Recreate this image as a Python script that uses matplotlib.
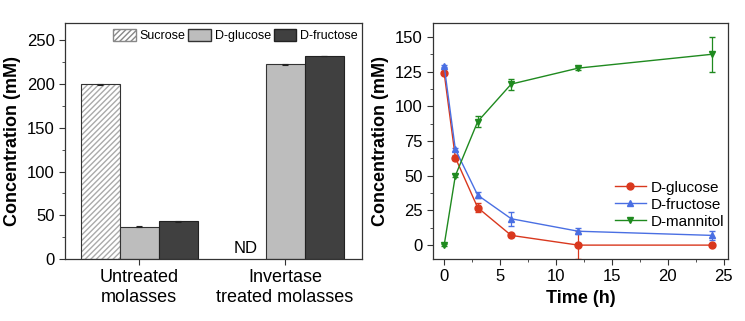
import matplotlib.pyplot as plt
import numpy as np
from matplotlib.ticker import MultipleLocator
from matplotlib.patches import Patch
from matplotlib.lines import Line2D

plt.rcParams['font.family'] = ['Liberation Sans', 'DejaVu Sans']

# left panel: sugar content of molasses
groups = ['Untreated\nmolasses', 'Invertase\ntreated molasses']
sucrose = [200, 0]
sucrose_err = [0.5, 0]
glucose = [37, 223]
glucose_err = [0.5, 0.5]
fructose = [43, 232]
fructose_err = [0.3, 0.3]

# right panel: time course
time_h = [0, 1, 3, 6, 12, 24]
glc = [124, 63, 27, 7, 0, 0]
glc_err = [1, 2, 3, 1, 10, 0.5]
fru = [129, 69, 36, 19, 10, 7]
fru_err = [1, 1, 2, 5, 2, 3]
man = [0, 50, 89, 116, 127.5, 137.5]
man_err = [0.5, 1, 4, 4, 1, 12.5]

fig = plt.figure(figsize=(7.45, 3.21), dpi=100)
ax1 = fig.add_axes([65 / 745, 62 / 321, 297 / 745, 236 / 321])
ax2 = fig.add_axes([433 / 745, 62 / 321, 295 / 745, 236 / 321])

x = np.arange(len(groups))
w = 0.267
ekw = dict(ecolor='#222222', elinewidth=0.8, capsize=2, capthick=0.8)

# sucrose only exists for untreated molasses
ax1.bar(x[:1] - w, sucrose[:1], w, color='white', edgecolor='#aaaaaa',
        hatch='//////', linewidth=0)
ax1.bar(x[:1] - w, sucrose[:1], w, fill=False, edgecolor='#333333', linewidth=0.8,
        yerr=sucrose_err[:1], error_kw=ekw)
ax1.bar(x, glucose, w, color='#bdbdbd', edgecolor='#333333', linewidth=0.8,
        yerr=glucose_err, error_kw=ekw)
ax1.bar(x + w, fructose, w, color='#404040', edgecolor='#222222', linewidth=0.8,
        yerr=fructose_err, error_kw=ekw)
ax1.text(x[1] - w, 3, 'ND', ha='center', va='bottom', fontsize=12)

handles = [Patch(facecolor='white', edgecolor='#888888', hatch='//////', label='Sucrose'),
           Patch(facecolor='#bdbdbd', edgecolor='#333333', label='D-glucose'),
           Patch(facecolor='#404040', edgecolor='#222222', label='D-fructose')]
ax1.legend(handles=handles, ncol=3, loc='upper right', frameon=False, fontsize=9,
           handlelength=1.8, handleheight=1.2, columnspacing=0.25, handletextpad=0.3,
           borderaxespad=0.05, bbox_to_anchor=(1.005, 1.0))

ax1.set_xlim(-0.507, 1.527)
ax1.set_ylim(0, 270)
ax1.set_xticks(x)
ax1.set_xticklabels(groups, fontsize=13)
ax1.yaxis.set_major_locator(MultipleLocator(50))
ax1.yaxis.set_minor_locator(MultipleLocator(25))
ax1.set_ylabel('Concentration (mM)', fontsize=13, fontweight='bold')

red = '#d9381e'
blue = '#4a6fe3'
green = '#1f8a1f'
series = [(glc, glc_err, red, 'o', 'D-glucose'),
          (fru, fru_err, blue, '^', 'D-fructose'),
          (man, man_err, green, 'v', 'D-mannitol')]
leg_handles = []
for vals, errs, col, mk, name in series:
    ax2.errorbar(time_h, vals, yerr=errs, color=col, marker=mk, ms=5, lw=1,
                 capsize=2.5, elinewidth=0.9)
    leg_handles.append(Line2D([], [], color=col, marker=mk, ms=5, lw=1, label=name))
ax2.set_xlim(-1, 25.4)
ax2.set_ylim(-10, 160)
ax2.xaxis.set_major_locator(MultipleLocator(5))
ax2.xaxis.set_minor_locator(MultipleLocator(2.5))
ax2.yaxis.set_major_locator(MultipleLocator(25))
ax2.yaxis.set_minor_locator(MultipleLocator(12.5))
ax2.set_xlabel('Time (h)', fontsize=13, fontweight='bold')
ax2.set_ylabel('Concentration (mM)', fontsize=13, fontweight='bold')
ax2.legend(handles=leg_handles, loc='lower right', frameon=False, fontsize=11,
           handlelength=2.0, labelspacing=0.2, handletextpad=0.35,
           bbox_to_anchor=(1.035, 0.07))

for ax in (ax1, ax2):
    ax.tick_params(which='both', direction='out', labelsize=12, color='#333333')
    ax.tick_params(which='major', length=4)
    ax.tick_params(which='minor', length=2)
    for s in ax.spines.values():
        s.set_color('#333333')
        s.set_linewidth(0.9)
ax1.tick_params(axis='x', which='minor', bottom=False)
ax1.tick_params(axis='x', labelsize=13)

fig.savefig('out.png', dpi=100)
